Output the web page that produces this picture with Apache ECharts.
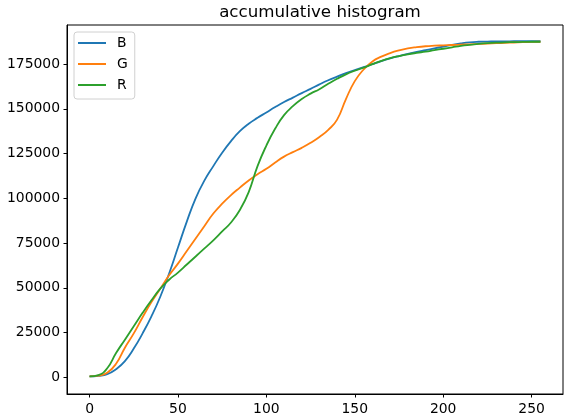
<!DOCTYPE html>
<html>
<head>
<meta charset="utf-8">
<style>
  html, body { margin: 0; padding: 0; background: #fff; }
  #chart { width: 566px; height: 420px; }
</style>
<script src="https://cdn.jsdelivr.net/npm/echarts@6/dist/echarts.min.js"></script>
</head>
<body>
<div id="chart"></div>
<script>
// pixel value (0..255), sampled every 5
const levels = [0, 5, 10, 15, 20, 25, 30, 35, 40, 45, 50, 55, 60, 65, 70, 75, 80, 85, 90, 95,
  100, 105, 110, 115, 120, 125, 130, 135, 140, 145, 150, 155, 160, 165, 170, 175, 180, 185, 190, 195,
  200, 205, 210, 215, 220, 225, 230, 235, 240, 245, 250, 255]

const blue = [500, 800, 1700, 4500, 9000, 16000, 24500, 34000, 45000, 58000,
  72500, 87000, 100000, 110000, 118000, 125500, 132000, 137500, 141700, 145000,
  148000, 151000, 153800, 156300, 158800, 161200, 163700, 166000, 168000, 170000,
  171700, 173300, 175000, 176700, 178200, 179500, 180700, 181800, 182800, 183800,
  184800, 185800, 186600, 187200, 187500, 187600, 187700, 187700, 187800, 187800,
  187800, 187800]

const green = [500, 900, 2500, 7500, 16500, 24500, 33500, 42000, 49500, 57000,
  63500, 70500, 77500, 84500, 91500, 97000, 101800, 106000, 110000, 113500,
  116500, 120000, 123300, 125800, 128200, 131000, 134300, 138300, 144000, 155500,
  165500, 172000, 176500, 179200, 181200, 182700, 183800, 184500, 185000, 185300,
  185500, 185700, 185900, 186100, 186300, 186500, 186700, 186900, 187100, 187300,
  187400, 187500]

const red = [500, 1200, 5000, 13500, 21000, 28500, 36000, 43000, 49500, 54500,
  58500, 63000, 67500, 72000, 76500, 81500, 86500, 93500, 103500, 118000,
  129500, 139000, 146500, 151500, 155500, 158500, 161000, 164000, 166800, 169300,
  171300, 173000, 175000, 176800, 178300, 179500, 180500, 181300, 182000, 182800,
  183600, 184400, 185200, 185800, 186300, 186700, 187000, 187200, 187300, 187400,
  187500, 187500]

const xTicks = [0, 50, 100, 150, 200, 250]
const yTicks = [0, 25000, 50000, 75000, 100000, 125000, 150000, 175000]

const names = ['B', 'G', 'R']
const colors = ['#1f77b4', '#ff7f0e', '#2ca02c']

const chart = echarts.init(document.getElementById('chart'))

const font = 'DejaVu Sans'
const pairs = ys => levels.map((x, i) => [x, ys[i]])

chart.setOption({
  animation: false,
  title: {
    text: 'accumulative histogram',
    left: 315,
    textAlign: 'center',
    top: -1,
    textStyle: { fontFamily: font, fontSize: 16.67, fontWeight: 'normal', color: '#000' }
  },
  grid: {
    left: 67,
    right: 3,
    top: 25,
    bottom: 26,
    show: true,
    borderColor: '#000',
    borderWidth: 1
  },
  legend: {
    orient: 'vertical',
    left: 74,
    top: 32,
    padding: [4, 7, 7, 4],
    itemGap: 7,
    itemWidth: 28,
    itemHeight: 2,
    icon: 'rect',
    backgroundColor: 'rgba(255,255,255,0.8)',
    borderColor: '#d0d0d0',
    borderWidth: 1,
    borderRadius: 3,
    textStyle: { fontFamily: font, fontSize: 13.9, color: '#000', lineHeight: 14, padding: [0, 0, 0, 6] },
    data: names
  },
  xAxis: {
    type: 'value',
    min: -12.75,
    max: 267.75,
    splitLine: { show: false },
    axisLine: { show: true, onZero: false, lineStyle: { color: '#000' } },
    axisTick: { show: true, length: 3.5, lineStyle: { color: '#000' }, customValues: xTicks },
    axisLabel: { fontFamily: font, fontSize: 13.9, color: '#000', margin: 8, customValues: xTicks }
  },
  yAxis: {
    type: 'value',
    min: -9375,
    max: 196875,
    splitLine: { show: false },
    axisLine: { show: true, onZero: false, lineStyle: { color: '#000' } },
    axisTick: { show: true, length: 3.5, lineStyle: { color: '#000' }, customValues: yTicks },
    axisLabel: {
      fontFamily: font, fontSize: 13.9, color: '#000', margin: 7, customValues: yTicks,
      formatter: v => String(v)
    }
  },
  series: [blue, green, red].map((ys, i) => ({
    name: names[i],
    type: 'line',
    data: pairs(ys),
    smooth: 0.5,
    showSymbol: false,
    color: colors[i],
    lineStyle: { width: 1.8, color: colors[i] }
  }))
})
</script>
</body>
</html>
